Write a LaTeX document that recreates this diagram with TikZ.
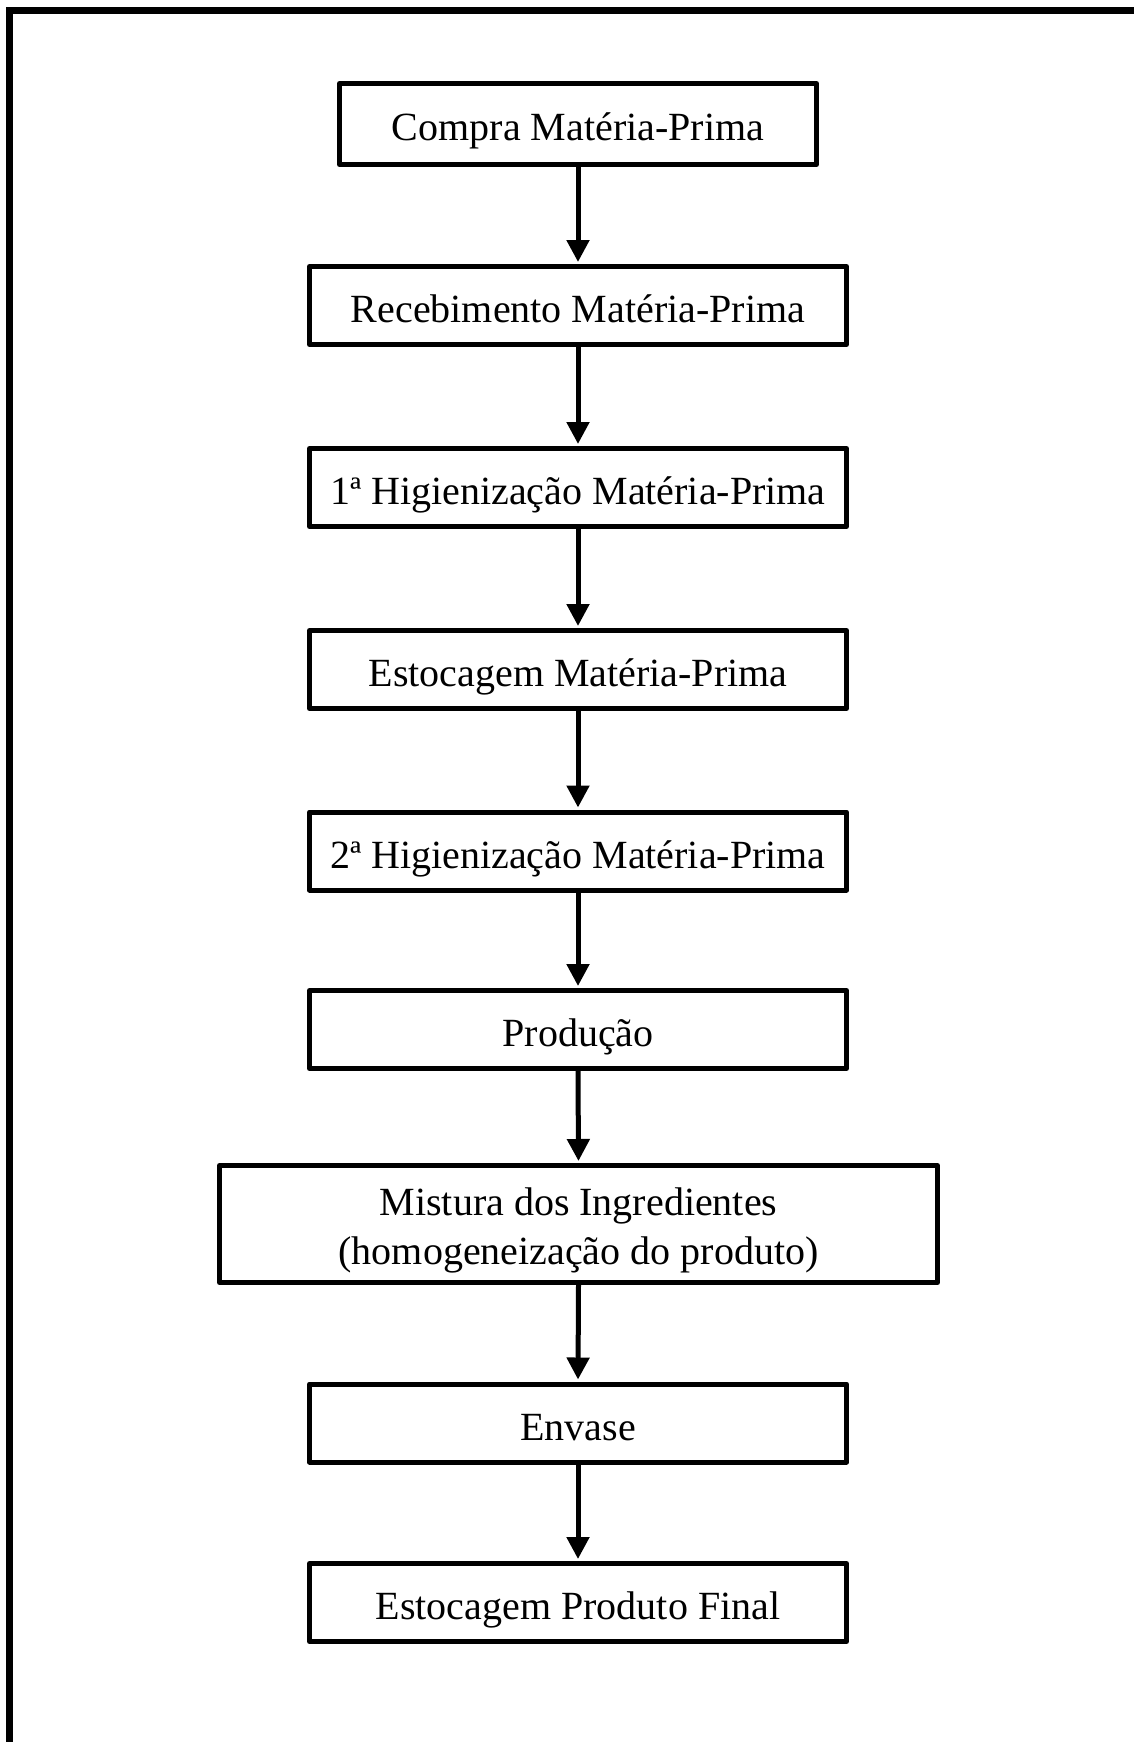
\documentclass[tikz,border=0pt]{standalone}
\usepackage{fontspec}
\setmainfont{Liberation Serif}
\usetikzlibrary{arrows.meta}
\tikzset{
  etapa/.style={draw, line width=5pt, line join=round, minimum width=537pt,
    minimum height=78pt, inner sep=0pt, align=center, text height=43pt,
    text depth=9pt, font=\fontsize{40}{49}\selectfont},
  seta/.style={-{Triangle[width=22pt,length=22pt]}, line width=5pt, shorten >=2pt}
}
\begin{document}
\begin{tikzpicture}[x=1pt,y=1pt]
\useasboundingbox (0,0) rectangle (1133,-1742);
\draw[line width=7pt] (9.5,-1750) -- (9.5,-10.5) -- (1140,-10.5);

\node[etapa, minimum width=477pt, minimum height=81pt] (compra) at (578,-124) {Compra Matéria-Prima};
\node[etapa] (receb) at (578,-305.5) {Recebimento Matéria-Prima};
\node[etapa] (hig1) at (578,-487.5) {1ª Higienização Matéria-Prima};
\node[etapa] (estmp) at (578,-669.5) {Estocagem Matéria-Prima};
\node[etapa] (hig2) at (578,-851) {2ª Higienização Matéria-Prima};
\node[etapa] (prod) at (578,-1029.5) {Produção};
\node[etapa, minimum width=718pt, minimum height=117pt, text height=88pt,
  text depth=8pt] (mist) at (578.5,-1224) {Mistura dos Ingredientes\\(homogeneização do produto)};
\node[etapa] (envase) at (578,-1423) {Envase};
\node[etapa] (estpf) at (578,-1602.5) {Estocagem Produto Final};

\draw[seta] (compra.south) -- (receb.north);
\draw[seta] (receb.south) -- (hig1.north);
\draw[seta] (hig1.south) -- (estmp.north);
\draw[seta] (estmp.south) -- (hig2.north);
\draw[seta] (hig2.south) -- (prod.north);
\draw[seta] (prod.south) -- (mist.north);
\draw[seta] (mist.south) -- (envase.north);
\draw[seta] (envase.south) -- (estpf.north);
\end{tikzpicture}
\end{document}
